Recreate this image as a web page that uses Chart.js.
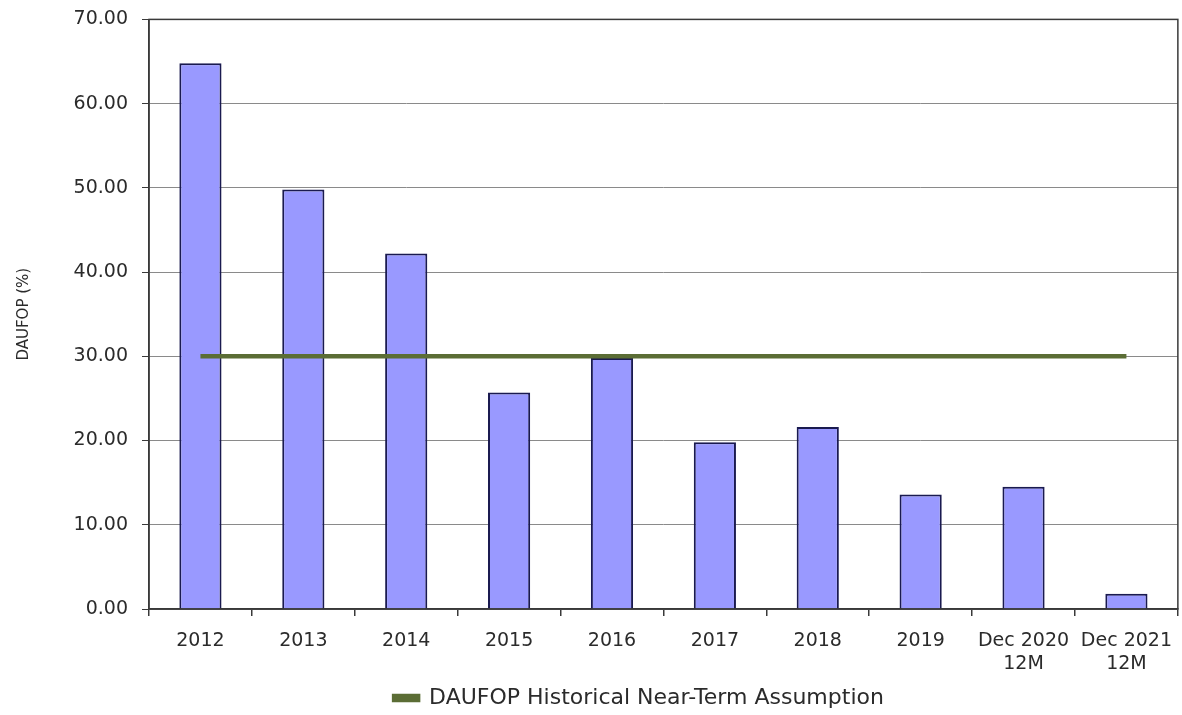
<!DOCTYPE html>
<html>
<head>
<meta charset="utf-8">
<script src="https://cdn.jsdelivr.net/npm/chart.js@4.4.0/dist/chart.umd.min.js"></script>
<style>
  html, body { margin: 0; padding: 0; background: #fff; overflow: hidden; }
  #wrap { position: relative; width: 1182px; height: 715px; overflow: hidden; }
  #chart { position: absolute; left: 0; top: -6px; }
</style>
</head>
<body>
<div id="wrap"><canvas id="chart" width="1186" height="721"></canvas></div>
<script>
// values
const categories = ['2012', '2013', '2014', '2015', '2016', '2017', '2018', '2019', ['Dec 2020', '12M'], ['Dec 2021', '12M']]
const daufopValues = [64.8, 49.8, 42.2, 25.7, 29.8, 19.8, 21.6, 13.6, 14.5, 1.8]
const assumptionValues = [30, 30, 30, 30, 30, 30, 30, 30, 30, 30]
const yMin = 0
const yMax = 70
const yStep = 10

const fontFamily = '"DejaVu Sans", Verdana, sans-serif'
const textColor = '#2b2b2b'

// full box round the plot area (Chart.js only draws the axis sides)
const plotBorder = {
  id: 'plotBorder',
  afterDatasetsDraw(chart) {
    const { ctx, chartArea: a } = chart
    ctx.save()
    ctx.strokeStyle = '#3a3a3a'
    ctx.lineWidth = 1.5
    ctx.strokeRect(a.left, a.top, a.right - a.left, a.bottom - a.top)
    ctx.restore()
  }
}

// the legend in the reference sits a bit right of the canvas centre and lower
const legendShift = {
  id: 'legendShift',
  afterLayout(chart) {
    if (chart.legend) {
      chart.legend.left += 46
      chart.legend.right += 46
      chart.legend.top += 4
      chart.legend.bottom += 4
    }
  }
}

const ctx = document.getElementById('chart').getContext('2d')

new Chart(ctx, {
  type: 'bar',
  data: {
    labels: categories,
    datasets: [
      {
        type: 'line',
        label: 'DAUFOP Historical Near-Term Assumption',
        data: assumptionValues,
        borderColor: '#5b6d35',
        backgroundColor: '#5b6d35',
        borderWidth: 4.5,
        pointRadius: 0,
        tension: 0,
        order: 0
      },
      {
        label: 'DAUFOP',
        data: daufopValues,
        backgroundColor: '#9999ff',
        borderColor: '#1a1a50',
        borderWidth: 2,
        barPercentage: 0.41,
        categoryPercentage: 1.0,
        order: 1
      }
    ]
  },
  options: {
    responsive: false,
    animation: false,
    devicePixelRatio: 1,
    layout: {
      padding: { top: 2, right: 0, bottom: 0, left: 0 }
    },
    plugins: {
      legend: {
        display: true,
        position: 'bottom',
        labels: {
          filter: (item) => item.datasetIndex === 0,
          boxWidth: 24,
          boxHeight: 4,
          padding: 8,
          color: textColor,
          font: { family: fontFamily, size: 22 }
        }
      },
      tooltip: { enabled: false }
    },
    scales: {
      x: {
        offset: true,
        grid: {
          display: true,
          drawOnChartArea: false,
          drawTicks: true,
          tickLength: 7,
          color: '#3a3a3a',
          lineWidth: 1.5
        },
        border: { display: true, color: '#3a3a3a', width: 1.5 },
        ticks: {
          autoSkip: false,
          maxRotation: 0,
          minRotation: 0,
          padding: 14,
          color: textColor,
          font: { family: fontFamily, size: 19 }
        },
        afterFit(scale) {
          scale.height = 66
        }
      },
      y: {
        min: yMin,
        max: yMax,
        grid: {
          color: '#8a8a8a',
          lineWidth: 1,
          drawTicks: true,
          tickLength: 7,
          tickColor: '#3a3a3a'
        },
        border: { display: true, color: '#3a3a3a', width: 1.5 },
        ticks: {
          stepSize: yStep,
          padding: 14,
          color: textColor,
          font: { family: fontFamily, size: 19 },
          callback: (v) => Number(v).toFixed(2)
        },
        title: {
          display: true,
          text: 'DAUFOP (%)',
          color: textColor,
          padding: { top: 15, bottom: 0 },
          font: { family: fontFamily, size: 15 }
        },
        afterFit(scale) {
          scale.width = 149
        }
      }
    }
  },
  plugins: [plotBorder, legendShift]
})
</script>
</body>
</html>
